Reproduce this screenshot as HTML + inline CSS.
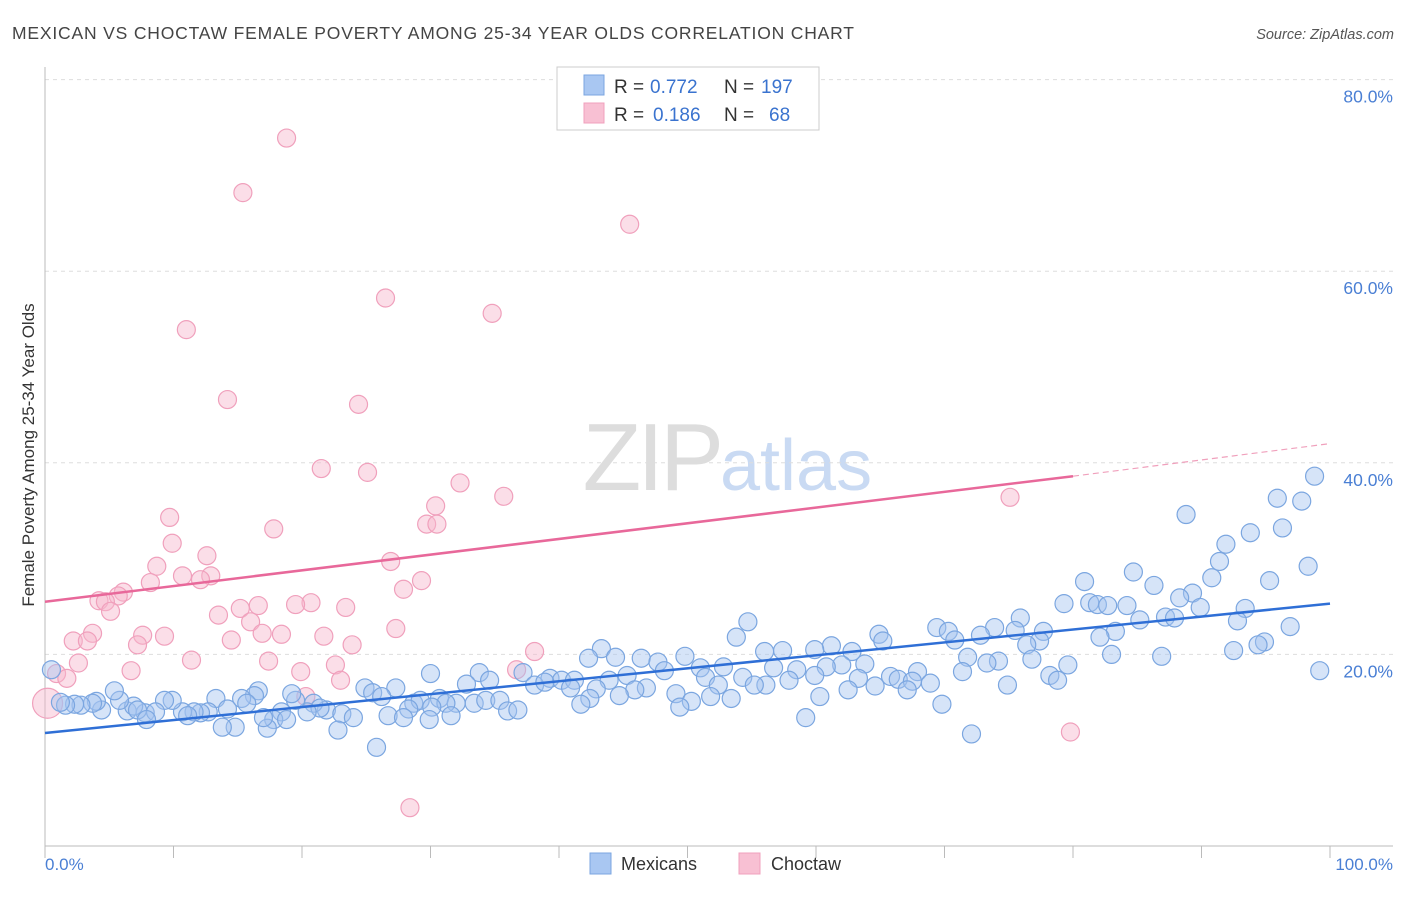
<!DOCTYPE html>
<html><head><meta charset="utf-8"><style>
body{margin:0;background:#fff;font-family:"Liberation Sans",sans-serif;}
svg text{font-family:"Liberation Sans",sans-serif;}
</style></head><body>
<svg id="chart" width="1406" height="892" xmlns="http://www.w3.org/2000/svg">
<text x="12" y="39" font-size="17.5" fill="#444" textLength="842" lengthAdjust="spacing">MEXICAN VS CHOCTAW FEMALE POVERTY AMONG 25-34 YEAR OLDS CORRELATION CHART</text>
<text x="1394" y="39" font-size="14.5" fill="#555" text-anchor="end" font-style="italic">Source: ZipAtlas.com</text>
<text x="720" y="490" font-size="96" text-anchor="end" fill="#ddd" font-family="Liberation Serif" letter-spacing="-4">ZIP</text>
<text x="720" y="490" font-size="72" fill="#c9daf3">atlas</text>
<g id="grid"></g><g id="axes"></g><g id="points"></g><g id="trends"></g>
<text transform="translate(34,455) rotate(-90)" font-size="17" fill="#333" text-anchor="middle">Female Poverty Among 25-34 Year Olds</text>
<text x="45" y="870" font-size="17" fill="#4a7fd4">0.0%</text>
<text x="1393" y="870" font-size="17" fill="#4a7fd4" text-anchor="end">100.0%</text>
<g>
<rect x="557" y="67" width="262" height="63" fill="#fff" stroke="#ccc"/>
<rect x="584" y="75" width="20" height="20" fill="#a9c7f2" stroke="#7ba6e0"/>
<rect x="584" y="103" width="20" height="20" fill="#f8c0d3" stroke="#f0a0bc"/>
<text x="614" y="93" font-size="19" fill="#333">R =</text>
<text x="650" y="93" font-size="19" fill="#3a73cf">0.772</text>
<text x="724" y="93" font-size="19" fill="#333">N =</text>
<text x="761" y="93" font-size="19" fill="#3a73cf">197</text>
<text x="614" y="121" font-size="19" fill="#333">R =</text>
<text x="653" y="121" font-size="19" fill="#3a73cf">0.186</text>
<text x="724" y="121" font-size="19" fill="#333">N =</text>
<text x="769" y="121" font-size="19" fill="#3a73cf">68</text>
</g>
<g>
<rect x="590" y="853" width="21" height="21" fill="#a9c7f2" stroke="#7ba6e0"/>
<text x="621" y="870" font-size="18" fill="#333">Mexicans</text>
<rect x="739" y="853" width="21" height="21" fill="#f8c0d3" stroke="#f0a0bc"/>
<text x="771" y="870" font-size="18" fill="#333">Choctaw</text>
</g>
</svg>
<script>
const yTicks=[20,40,60,80];
const xTicks=[0,10,20,30,40,50,60,70,80,90,100];
const blueX=[98.8,95.9,97.8,88.8,96.3,93.8,91.9,91.4,98.3,84.7,90.8,95.3,80.9,86.3,89.3,88.3,79.3,81.3,81.9,82.7,84.2,89.9,93.4,87.2,87.9,85.2,92.8,75.9,96.9,83.3,69.4,70.3,77.7,73.9,75.5,82.1,72.8,64.9,70.8,77.4,76.4,94.9,94.4,92.5,86.9,83.0,65.2,61.2,62.8,59.9,71.8,74.2,73.3,76.8,79.6,99.2,54.7,53.8,56.0,57.4,43.3,42.3,44.4,46.4,47.7,49.8,51.0,52.8,56.7,58.5,62.0,60.8,63.8,65.8,67.9,71.4,78.2,78.8,66.4,67.5,68.9,67.1,74.9,63.3,59.9,57.9,51.4,52.4,54.3,45.3,48.2,43.9,37.2,39.3,40.2,41.2,38.1,38.9,40.9,33.8,34.6,32.8,30.0,27.3,24.9,25.5,26.2,49.1,46.8,45.9,42.9,56.1,55.2,60.3,62.5,64.6,51.8,53.4,50.3,44.7,42.4,30.7,32.0,33.4,34.3,35.4,28.7,29.2,31.2,30.1,36.0,36.8,41.7,49.4,69.8,59.2,28.3,26.7,27.9,31.6,21.9,23.1,24.0,20.9,21.4,20.4,19.5,19.2,16.6,16.3,15.3,15.7,13.3,18.4,17.8,18.8,17.3,22.8,25.8,72.1,14.8,13.8,14.2,12.7,12.1,11.6,10.7,11.1,9.9,9.3,7.8,8.6,6.4,6.9,7.2,5.8,5.4,4.4,4.0,3.7,2.8,2.3,1.6,1.2,0.5,7.9,29.9,17.0];
const blueY=[38.6,36.3,36.0,34.6,33.2,32.7,31.5,29.7,29.2,28.6,28.0,27.7,27.6,27.2,26.4,25.9,25.3,25.4,25.2,25.1,25.1,24.9,24.8,23.9,23.8,23.6,23.5,23.8,22.9,22.4,22.8,22.4,22.4,22.8,22.5,21.8,22.0,22.1,21.5,21.4,21.0,21.3,21.0,20.4,19.8,20.0,21.4,20.9,20.3,20.5,19.7,19.3,19.1,19.5,18.9,18.3,23.4,21.8,20.3,20.4,20.6,19.6,19.7,19.6,19.2,19.8,18.6,18.7,18.6,18.4,18.9,18.7,19.0,17.7,18.2,18.2,17.8,17.3,17.4,17.2,17.0,16.3,16.8,17.5,17.8,17.3,17.6,16.8,17.6,17.8,18.3,17.3,18.1,17.5,17.3,17.3,16.8,17.1,16.5,18.1,17.3,16.9,18.0,16.5,16.5,16.0,15.6,15.9,16.5,16.3,16.4,16.8,16.8,15.6,16.3,16.7,15.6,15.4,15.1,15.7,15.4,15.4,14.9,14.9,15.2,15.2,14.9,15.2,14.9,14.5,14.1,14.2,14.8,14.5,14.8,13.4,14.3,13.6,13.4,13.6,14.2,13.8,13.4,14.9,14.4,14.0,15.2,15.9,16.2,15.7,15.4,14.9,15.4,14.0,13.2,13.2,12.3,12.1,10.3,11.7,12.4,12.4,14.3,14.0,13.9,14.0,14.0,13.6,15.2,15.2,13.9,14.0,14.1,14.6,14.2,15.2,16.2,14.2,15.1,14.9,14.7,14.8,14.7,15.0,18.4,13.2,13.2,13.4];
const pinkX=[18.8,15.4,45.5,26.5,34.8,11.0,14.2,24.4,21.5,25.1,32.3,35.7,75.1,30.4,9.7,17.8,29.7,30.5,9.9,12.6,26.9,8.7,10.7,12.9,12.1,8.2,29.3,27.9,6.1,5.7,4.2,4.7,5.1,20.7,19.5,16.6,15.2,23.4,13.5,16.0,27.3,3.7,16.9,18.4,7.6,9.3,21.7,14.5,2.2,3.3,7.2,23.9,38.1,11.4,17.4,2.6,22.6,6.7,19.9,36.7,0.9,1.7,23.0,20.3,0.2,79.8,28.4];
const pinkY=[73.9,68.2,64.9,57.2,55.6,53.9,46.6,46.1,39.4,39.0,37.9,36.5,36.4,35.5,34.3,33.1,33.6,33.6,31.6,30.3,29.7,29.2,28.2,28.2,27.8,27.5,27.7,26.8,26.5,26.1,25.6,25.5,24.5,25.4,25.2,25.1,24.8,24.9,24.1,23.4,22.7,22.2,22.2,22.1,22.0,21.9,21.9,21.5,21.4,21.4,21.0,21.0,20.3,19.4,19.3,19.1,18.9,18.3,18.2,18.4,18.0,17.5,17.3,15.6,14.9,11.9,4.0];
const blueTrend=[0,11.8,100,25.3];
const pinkTrend=[0,25.5,80,38.6,100,42.0];
const NS="http://www.w3.org/2000/svg";
const X0=45,X1=1330,Y0=846,PX=9.58;
function sx(v){return X0+(X1-X0)*v/100;}
function sy(v){return Y0-v*PX;}
function mk(t,a,p){const e=document.createElementNS(NS,t);for(const k in a)e.setAttribute(k,a[k]);p.appendChild(e);return e;}
const grid=document.getElementById('grid'),axes=document.getElementById('axes'),pts=document.getElementById('points'),tr=document.getElementById('trends');
yTicks.forEach(v=>{
 const l=mk('line',{x1:X0,x2:1393,y1:sy(v),y2:sy(v),stroke:'#ddd','stroke-dasharray':'4,4'},grid);
 
 
 const t=mk('text',{x:1393,y:sy(v)+23,'font-size':17.5,fill:'#4a7fd4','text-anchor':'end'},grid);
 t.textContent=v.toFixed(1)+'%';
 
 
});
let a=mk('line',{x1:X0,x2:X0,y1:67,y2:Y0,stroke:'#bbb'},axes);


a=mk('line',{x1:X0,x2:1393,y1:Y0,y2:Y0,stroke:'#bbb'},axes);


xTicks.forEach(v=>{
 const l=mk('line',{x1:sx(v),x2:sx(v),y1:Y0,y2:Y0+12,stroke:'#bbb'},axes);
 
 
});
pinkX.forEach((x,i)=>{
 const c=mk('circle',{cx:sx(x),cy:sy(pinkY[i]),r:i==64?15:9,fill:'rgba(246,182,204,0.45)',stroke:'#f0a0bc','stroke-width':1.2},pts);
 
 
});
blueX.forEach((x,i)=>{
 const c=mk('circle',{cx:sx(x),cy:sy(blueY[i]),r:9,fill:'rgba(164,196,240,0.45)',stroke:'#7ba6e0','stroke-width':1.2},pts);
 
 
});
let l=mk('line',{x1:sx(blueTrend[0]),y1:sy(blueTrend[1]),x2:sx(blueTrend[2]),y2:sy(blueTrend[3]),stroke:'#2f6fd6','stroke-width':2.5},tr);


l=mk('line',{x1:sx(pinkTrend[0]),y1:sy(pinkTrend[1]),x2:sx(pinkTrend[2]),y2:sy(pinkTrend[3]),stroke:'#e8689a','stroke-width':2.5},tr);


l=mk('line',{x1:sx(pinkTrend[2]),y1:sy(pinkTrend[3]),x2:sx(pinkTrend[4]),y2:sy(pinkTrend[5]),stroke:'#f0a0bc','stroke-width':1.2,'stroke-dasharray':'6,4'},tr);


</script>
</body></html>
